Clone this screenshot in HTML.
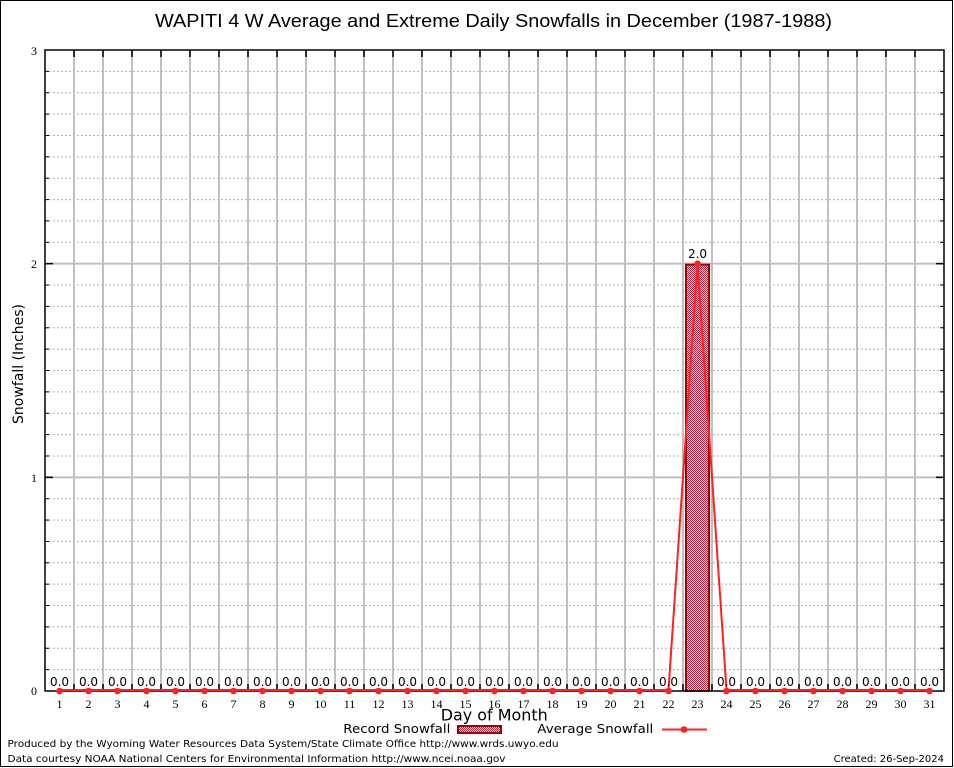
<!DOCTYPE html>
<html><head><meta charset="utf-8"><style>
html,body{margin:0;padding:0;background:#fff;}
svg{display:block;}
.sans{font-family:"DejaVu Sans","Liberation Sans",sans-serif;}
.ser{font-family:"Liberation Serif","DejaVu Serif",serif;}
</style></head><body>
<svg width="954" height="768" viewBox="0 0 954 768" xmlns="http://www.w3.org/2000/svg">
<defs>
<pattern id="chk" width="2" height="2" patternUnits="userSpaceOnUse">
<rect width="2" height="2" fill="#fff"/>
<rect width="1" height="1" fill="#c8102e"/>
<rect x="1" y="1" width="1" height="1" fill="#c8102e"/>
</pattern>
</defs>
<rect x="0.5" y="0.5" width="952" height="766" fill="#fff" stroke="#000" stroke-width="1"/>
<text x="155" y="27" font-family="Liberation Sans, sans-serif" font-size="18.5" textLength="677" lengthAdjust="spacingAndGlyphs">WAPITI 4 W Average and Extreme Daily Snowfalls in December (1987-1988)</text>
<g id="grid"></g>
<g id="bars"></g>
<g id="fg"></g>
<text transform="translate(23,364) rotate(-90)" text-anchor="middle" class="sans" font-size="14">Snowfall (Inches)</text>
<g class="ser" font-size="12" text-anchor="end">
<text x="37" y="55">3</text>
<text x="37" y="268">2</text>
<text x="37" y="482">1</text>
<text x="37" y="695">0</text>
</g>
<text x="440.7" y="720.5" class="sans" font-size="16" textLength="107" lengthAdjust="spacingAndGlyphs">Day of Month</text>
<text x="343.3" y="733" class="sans" font-size="12.5" textLength="107" lengthAdjust="spacingAndGlyphs">Record Snowfall</text>
<rect x="458" y="726" width="43" height="7" fill="url(#chk)" stroke="#a00000" stroke-width="2"/>
<text x="537.3" y="733" class="sans" font-size="12.5" textLength="116" lengthAdjust="spacingAndGlyphs">Average Snowfall</text>
<line x1="662" y1="729.5" x2="707" y2="729.5" stroke="#ff2020" stroke-width="2"/>
<circle cx="684" cy="729.5" r="3.3" fill="#ff2020"/>
<text x="7.5" y="747" class="sans" font-size="10" textLength="551" lengthAdjust="spacingAndGlyphs">Produced by the Wyoming Water Resources Data System/State Climate Office http://www.wrds.uwyo.edu</text>
<text x="7.5" y="762" class="sans" font-size="10" textLength="498" lengthAdjust="spacingAndGlyphs">Data courtesy NOAA National Centers for Environmental Information http://www.ncei.noaa.gov</text>
<text x="944" y="762" class="sans" font-size="10" text-anchor="end">Created: 26-Sep-2024</text>
</svg>
<script>
(function(){
var NS="http://www.w3.org/2000/svg";
function el(p,t,a,txt){var e=document.createElementNS(NS,t);for(var k in a)e.setAttribute(k,a[k]);if(txt!==undefined)e.textContent=txt;p.appendChild(e);return e;}
var L=45,R=944,T=50,B=691,W=29,ppi=(B-T)/3;
var g=document.getElementById("grid"),b=document.getElementById("bars"),f=document.getElementById("fg");
// horizontal lines
for(var n=1;n<30;n++){var y=B-ppi*n/10;
 if(n%10==0){el(g,"line",{x1:L,x2:R,y1:y,y2:y,stroke:"#c0c0c0","stroke-width":2});
  el(g,"line",{x1:L,x2:L+8,y1:y,y2:y,stroke:"#000","stroke-width":1.5});
  el(g,"line",{x1:R-8,x2:R,y1:y,y2:y,stroke:"#000","stroke-width":1.5});}
 else{el(g,"line",{x1:L,x2:R,y1:y,y2:y,stroke:"#b0b0b0","stroke-width":1,"stroke-dasharray":"2,2"});
  el(g,"line",{x1:L,x2:L+4,y1:y,y2:y,stroke:"#000","stroke-width":1});
  el(g,"line",{x1:R-4,x2:R,y1:y,y2:y,stroke:"#000","stroke-width":1});}
}
// vertical lines
for(var k=1;k<31;k++){var x=L+W*k;
 el(g,"line",{x1:x,x2:x,y1:T,y2:B,stroke:"#c0c0c0","stroke-width":2});
 el(g,"line",{x1:x,x2:x,y1:T,y2:T+7,stroke:"#000","stroke-width":1.5});
 el(g,"line",{x1:x,x2:x,y1:B-7,y2:B,stroke:"#000","stroke-width":1.5});
}
// bar day 23
var bx=685,bw=24,by=B-2*ppi;
el(b,"rect",{x:bx+1,y:by+1,width:bw-1,height:B-by-1,fill:"url(#chk)",stroke:"#a00000","stroke-width":2});
// border
el(f,"rect",{x:L,y:T,width:R-L,height:B-T,fill:"none",stroke:"#000","stroke-width":1.5});
// average line
var pts=[];
for(var d=1;d<=31;d++){var x=L+W*(d-0.5);var v=(d==23)?2:0;pts.push(x+","+(B-1-v*ppi+(v?1:0)));}
el(f,"polyline",{points:pts.join(" "),fill:"none",stroke:"#ff2020","stroke-width":2});
for(var d=1;d<=31;d++){var x=L+W*(d-0.5);var v=(d==23)?2:0;var y=B-v*ppi;
 el(f,"circle",{cx:x,cy:y,r:3.3,fill:"#ff2020"});
 el(f,"text",{x:x,y:(v?258:686),"text-anchor":"middle","font-family":"DejaVu Sans, sans-serif","font-size":12},v?"2.0":"0.0");
 el(f,"text",{x:x,y:708,"text-anchor":"middle","font-family":"Liberation Serif, serif","font-size":12},String(d));
}
})();
</script>
</body></html>
